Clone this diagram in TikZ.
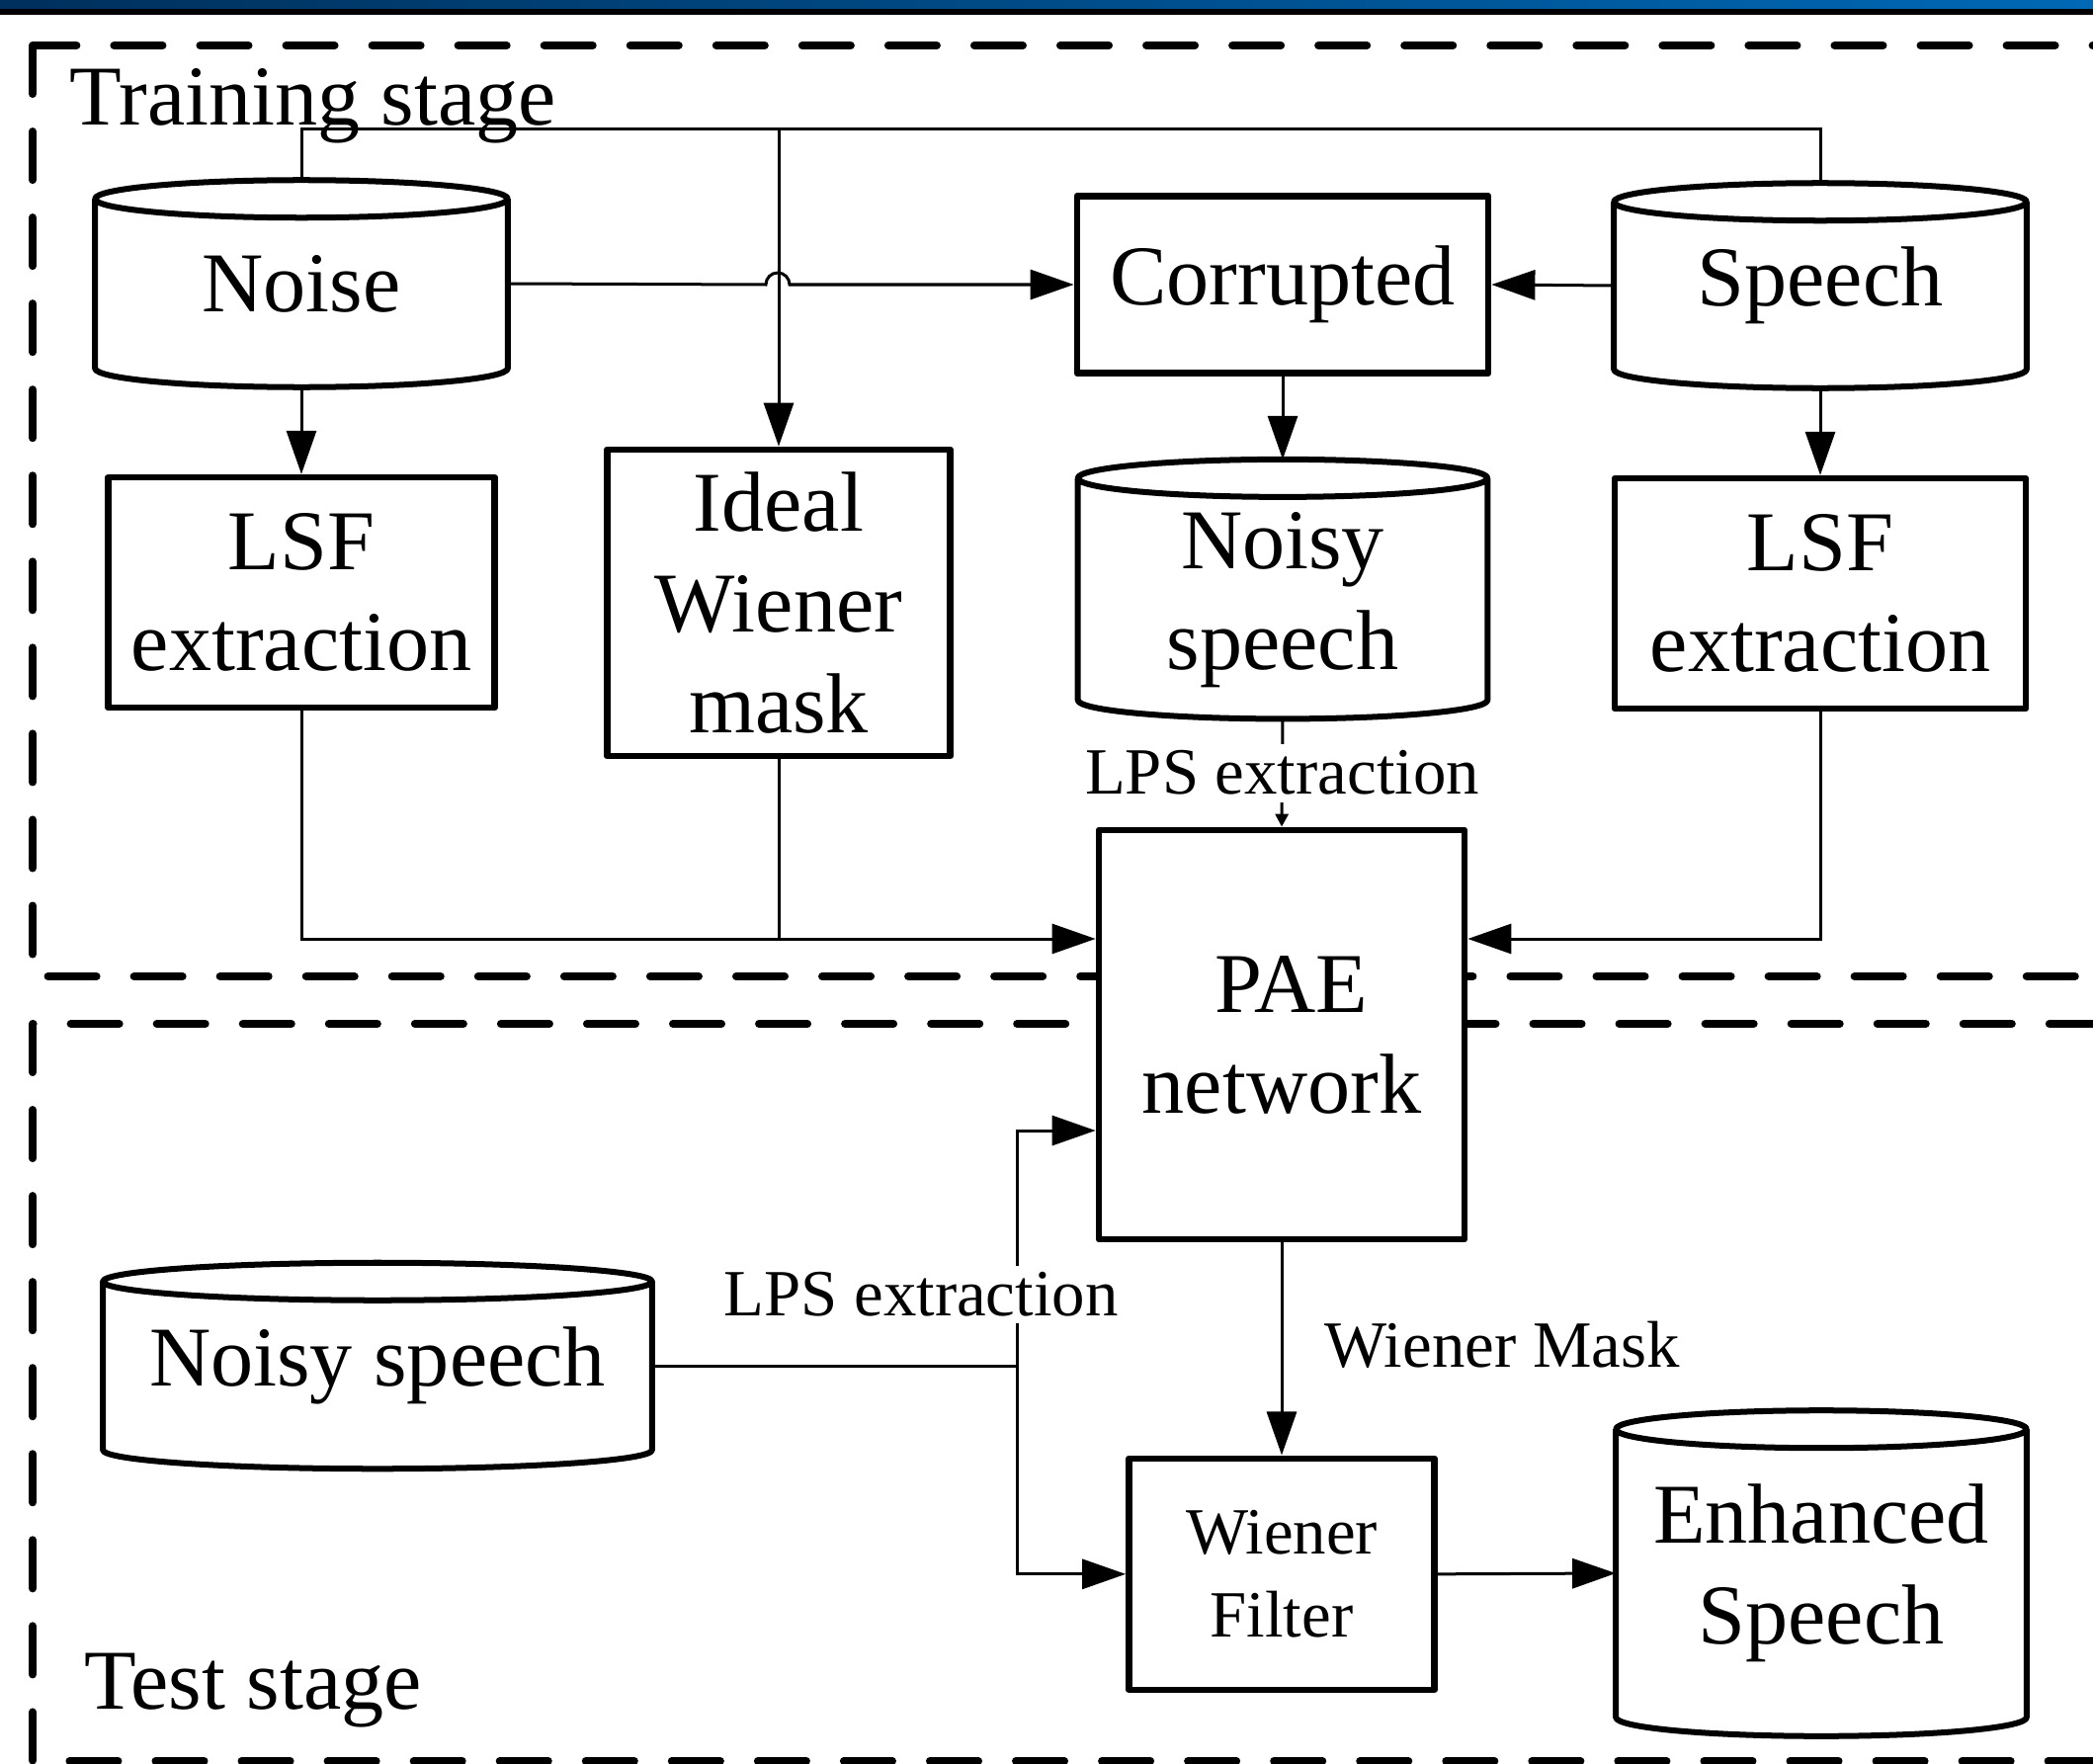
\documentclass[tikz,border=0pt]{standalone}
\usepackage{fontspec}
\setmainfont{Liberation Serif}
\usetikzlibrary{arrows.meta, positioning, calc}
\definecolor{barnavy}{HTML}{00305C}
\definecolor{barblue}{HTML}{0068B5}
\tikzset{
    bigtext/.style={font=\fontsize{24.5}{29}\selectfont},
    midtext/.style={font=\fontsize{19}{24}\selectfont},
    procbox/.style={rectangle, draw, line width=0.065cm, line join=round, align=center, inner sep=0pt, bigtext},
    datacyl/.style={rectangle, align=center, inner sep=0pt, bigtext},
    cylline/.style={line width=0.06cm, line join=round},
    stagebox/.style={draw, line width=0.08cm, line cap=round, dash pattern=on 0.49cm off 0.38cm},
    conn/.style={line width=0.03cm},
    arrow/.style={conn, -{Triangle[length=0.44cm, width=0.3cm]}},
    smallarrow/.style={conn, -{Triangle[length=0.13cm, width=0.13cm]}},
    lbl/.style={midtext, inner sep=2pt}
}
% outline of a data store drawn round the bounds of a datacyl node
\newcommand{\cylrim}[1]{%
    \draw[cylline] let \p1=(#1.north west), \p2=(#1.south east), \n1={(\x2-\x1)/2} in
        (\x1,\y1-0.19cm) -- (\x1,\y2+0.19cm)
        arc[start angle=180, end angle=360, x radius=\n1, y radius=0.19cm] -- (\x2,\y1-0.19cm)
        (\x1+\n1,\y1-0.19cm) ellipse[x radius=\n1, y radius=0.19cm];
}

\begin{document}
\begin{tikzpicture}[x=0.01cm, y=-0.01cm]
    \useasboundingbox (0,0) rectangle (2118,1785);
    \clip (0,0) rectangle (2118,1785);
    % banner along the top edge
    \shade[left color=barnavy, right color=barblue] (0,0) rectangle (2118,9);
    \fill[black] (0,9) rectangle (2118,15);
    % the two stages
    \draw[stagebox] (33,46) rectangle (2160,988);
    \draw[stagebox] (33,1036) rectangle (2160,1782);
    \node[bigtext, anchor=base west, inner sep=0pt] (train) at (70,127) {Training stage};
    \node[bigtext, anchor=base west, inner sep=0pt] (test) at (85,1729) {Test stage};

    % training stage
    \node[datacyl, minimum width=4.16cm, minimum height=2.08cm] (noise) at (305,287) {Noise};
    \node[procbox, minimum width=4.16cm, minimum height=1.79cm] (corr) at (1298,288) {Corrupted};
    \node[datacyl, minimum width=4.16cm, minimum height=2.06cm] (speech) at (1842,289) {Speech};
    \node[procbox, below=0.88cm of noise, minimum width=3.91cm, minimum height=2.33cm] (lsfl) {LSF\\extraction};
    \node[procbox, minimum width=3.47cm, minimum height=3.10cm] (iwm) at (788,610) {Ideal\\Wiener\\mask};
    \node[datacyl, below=0.84cm of corr, minimum width=4.13cm, minimum height=2.61cm] (noisyt) {\\[-0.22cm]Noisy\\speech};
    \node[procbox, below=0.88cm of speech, minimum width=4.16cm, minimum height=2.33cm] (lsfr) {LSF\\extraction};
    \node[procbox, fill=white, minimum width=3.70cm, minimum height=4.14cm] (pae) at (1297,1047) {\hspace*{0.2cm}PAE\\network};

    % test stage
    \node[datacyl, minimum width=5.54cm, minimum height=2.07cm] (noisyb) at (382,1382) {Noisy speech};
    \node[procbox, midtext, below=2.15cm of pae, minimum width=3.09cm, minimum height=2.34cm] (wf) {Wiener\\Filter};
    \node[datacyl, minimum width=4.14cm, minimum height=3.28cm] (enh) at (1843,1592) {Enhanced\\Speech};

    \cylrim{noise}
    \cylrim{speech}
    \cylrim{noisyt}
    \cylrim{noisyb}
    \cylrim{enh}

    \coordinate (bus) at (788,131);
    \coordinate (paeup) at ($(pae.west)+(0,-97)$);
    \coordinate (paedown) at ($(pae.west)+(0,97)$);
    \coordinate (split) at (1029,1382);

    \draw[conn] (noise.north) |- (bus) -| (speech.north);
    \draw[arrow] (bus) -- (iwm.north);
    \draw[arrow] (noise.east) -- (775,288) arc[start angle=180, end angle=0, radius=0.12cm] -- (corr.west);
    \draw[arrow] (speech.west) -- (corr.east);
    \draw[arrow] (noise.south) -- (lsfl.north);
    \draw[arrow] (speech.south) -- (lsfr.north);
    \draw[arrow] (corr.south) -- (noisyt.north);
    \draw[smallarrow] (noisyt.south) -- node[lbl, fill=white] {LPS extraction} (pae.north);
    \draw[arrow] (lsfl.south) |- (paeup);
    \draw[conn] (iwm.south) -- (iwm.south |- paeup);
    \draw[arrow] (lsfr.south) |- (paeup -| pae.east);

    \draw[conn] (noisyb.east) -- (split);
    \draw[arrow] (split) |- (paedown);
    \draw[arrow] (split) |- (wf.west);
    \node[lbl, fill=white] (lpsb) at (932,1310) {LPS extraction};
    \draw[arrow] (pae.south) -- node[lbl, right=0.35cm, pos=0.48] (mask) {Wiener Mask} (wf.north);
    \draw[arrow] (wf.east) -- (enh.west);
\end{tikzpicture}
\end{document}
